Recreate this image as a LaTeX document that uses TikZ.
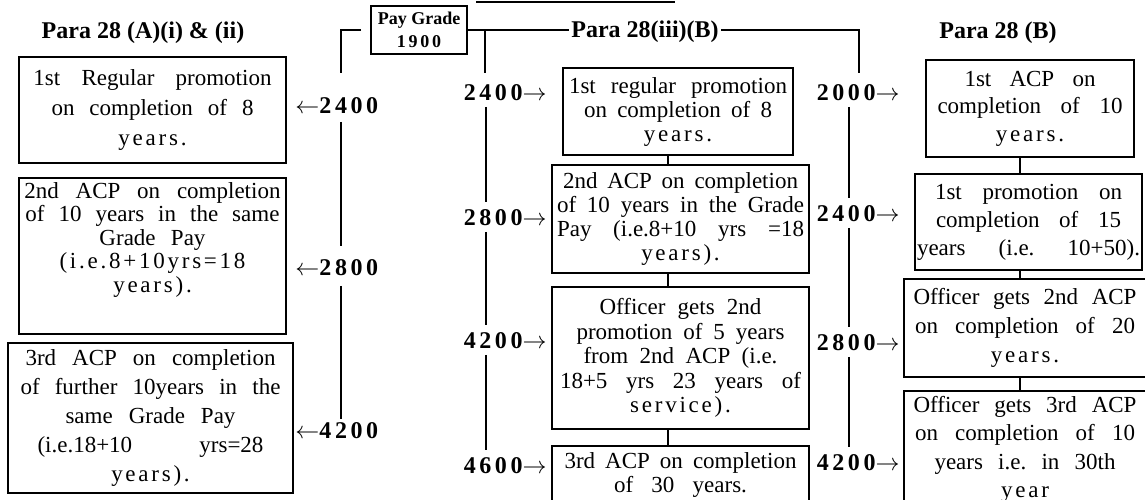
\documentclass[tikz,border=0pt]{standalone}
\usepackage{fontspec}
\setmainfont{Liberation Serif}
\newfontfamily\numfont[LetterSpace=15]{Liberation Serif}
\newfontfamily\lsfont[LetterSpace=12]{Liberation Serif}
\newcommand{\justline}[2]{\makebox[#1][s]{\frenchspacing\spaceskip=0pt\xspaceskip=0pt #2}}
\begin{document}
\begin{tikzpicture}[x=0.5pt,y=-0.5pt,
  stage/.style={draw, line width=1.1pt, align=center, inner xsep=2pt, inner ysep=1pt, font=\fontsize{11.5}{#1}\selectfont},
  stage/.default=12,
  grade/.style={inner sep=0pt, text height=8.5pt, text depth=0pt, font=\fontsize{12}{14}\selectfont\numfont\bfseries},
  head/.style={font=\fontsize{12}{14}\selectfont\bfseries},
  trunk/.style={line width=1pt},
  gap/.style={shorten <=3pt, shorten >=3pt}]
\useasboundingbox (0,0) rectangle (1145,499);
\clip (0,0) rectangle (1145,499);
\draw[line width=0.6pt] (476,2) -- (675,2);
\coordinate (xl) at (341,0);
\coordinate (xc0) at (485,0);
\coordinate (xc) at (486,0);
\coordinate (xr0) at (859,0);
\coordinate (xr) at (849,0);
\coordinate (xcb) at (668,0);
\coordinate (xrb) at (1020,0);
\node[draw, line width=1pt, minimum width=48pt, minimum height=24pt, inner sep=0pt, align=center, font=\fontsize{9}{11.5}\selectfont\bfseries] (pg) at (419,30) {Pay Grade\\{\numfont 1900}};
\node[head] (t1) at (143,33) {Para 28 (A)(i) \& (ii)};
\node[head, fill=white, inner xsep=1pt] (t2) at (645,32) {Para 28(iii)(B)};
\node[head] (t3) at (998,33) {Para 28 (B)};
\node[stage=15, minimum width=133.5pt, minimum height=53pt, text width=129.5pt] (l1) at (152.5,110)
  {\justline{119pt}{1st Regular promotion}\\ \justline{101pt}{on completion of 8}\\ {\lsfont years.}};
\node[stage=11.75, anchor=north, minimum width=133.5pt, text width=129.5pt, text depth=66pt, inner ysep=2pt] (l2) at (152.5,177)
  {\justline{128pt}{2nd ACP on completion}\\ \justline{127pt}{of 10 years in the same}\\ \justline{53pt}{Grade Pay}\\ {\lsfont (i.e.8+10yrs=18}\\ {\lsfont years).}};
\node[stage=14.4, minimum width=142.5pt, minimum height=75pt, text width=138.5pt] (l3) at (150.5,418)
  {\justline{125pt}{3rd ACP on completion}\\ \justline{130pt}{of further 10years in the}\\ \justline{85pt}{same Grade Pay}\\ \justline{113pt}{(i.e.18+10 yrs=28}\\ {\lsfont years).}};
\node[stage=12, minimum width=115pt, minimum height=43.5pt, text width=111pt] (c1) at (678,111.5)
  {\justline{109pt}{1st regular promotion}\\ \justline{94pt}{on completion of 8}\\ {\lsfont years.}};
\node[stage=12, minimum width=128.5pt, minimum height=54pt, text width=124.5pt] (c2) at (680.5,219)
  {\justline{117.5pt}{2nd ACP on completion}\\ \justline{123.5pt}{of 10 years in the Grade}\\ \justline{123.5pt}{Pay (i.e.8+10 yrs =18}\\ {\lsfont years).}};
\node[stage=12.25, minimum width=128.5pt, minimum height=71pt, text width=124.5pt] (c3) at (680.5,358)
  {\justline{81pt}{Officer gets 2nd}\\ \justline{104pt}{promotion of 5 years}\\ \justline{97pt}{from 2nd ACP (i.e.}\\ \justline{120.5pt}{18+5 yrs 23 years of}\\ {\lsfont service).}};
\node[stage=12, minimum width=128.5pt, minimum height=29pt, text width=124.5pt] (c4) at (680.5,475)
  {\justline{116pt}{3rd ACP on completion}\\ \justline{66.5pt}{of 30 years.}};
\node[stage=13.75, minimum width=104pt, minimum height=48.5pt, text width=100pt] (r1) at (1030,108.5)
  {\justline{65.5pt}{1st ACP on}\\ \justline{92.5pt}{completion of 10}\\ {\lsfont years.}};
\node[stage=14, minimum width=113.5pt, minimum height=48pt, text width=111.5pt, inner xsep=1pt] (r2) at (1028.5,222)
  {\justline{93.5pt}{1st promotion on}\\ \justline{92.5pt}{completion of 15}\\ \justline{111.5pt}{years (i.e. 10+50).}};
\node[stage=14.5, minimum width=121pt, minimum height=49pt, text width=117pt] (r3) at (1025,328)
  {\justline{111.5pt}{Officer gets 2nd ACP}\\ \justline{110pt}{on completion of 20}\\ {\lsfont years.}};
\node[stage=14.25, minimum width=121pt, minimum height=58.5pt, text width=117pt] (r4) at (1025,449.5)
  {\justline{111.5pt}{Officer gets 3rd ACP}\\ \justline{110pt}{on completion of 10}\\ \justline{90.5pt}{years i.e. in 30th}\\ {\lsfont year}};
\node[grade, anchor=west] (la1) at (295,105) {$\leftarrow$2400};
\node[grade, anchor=west] (la2) at (295,267) {$\leftarrow$2800};
\node[grade, anchor=west] (la3) at (295,430) {$\leftarrow$4200};
\node[grade, anchor=east] (lc1) at (547,92) {2400$\rightarrow$};
\node[grade, anchor=east] (lc2) at (547,217) {2800$\rightarrow$};
\node[grade, anchor=east] (lc3) at (547,340) {4200$\rightarrow$};
\node[grade, anchor=east] (lc4) at (547,465) {4600$\rightarrow$};
\node[grade, anchor=east] (lr1) at (900,92) {2000$\rightarrow$};
\node[grade, anchor=east] (lr2) at (900,213) {2400$\rightarrow$};
\node[grade, anchor=east] (lr3) at (900,342) {2800$\rightarrow$};
\node[grade, anchor=east] (lr4) at (900,462) {4200$\rightarrow$};
\draw[trunk, shorten >=11.5pt] ([xshift=-4.5pt]pg.west) -| (la1.north -| xl);
\draw[trunk, shorten <=4pt, shorten >=6pt] (la1.south -| xl) -- (la2.north -| xl);
\draw[trunk, shorten <=5pt, shorten >=1pt] (la2.south -| xl) -- (la3.north -| xl);
\draw[trunk] (pg.east) -- (t2.west |- pg.east);
\draw[trunk, shorten >=5pt] (t2.east |- pg.east) -| (lr1.north -| xr0);
\draw[trunk, shorten >=5pt] (pg.east -| xc0) -- (lc1.north -| xc0);
\draw[trunk, gap] (lc1.south -| xc) -- (lc2.north -| xc);
\draw[trunk, gap] (lc2.south -| xc) -- (lc3.north -| xc);
\draw[trunk, gap] (lc3.south -| xc) -- (lc4.north -| xc);
\draw[trunk, gap] (lr1.south -| xr) -- (lr2.north -| xr);
\draw[trunk, gap] (lr2.south -| xr) -- (lr3.north -| xr);
\draw[trunk, gap] (lr3.south -| xr) -- (lr4.north -| xr);
\draw[trunk] (c1.south -| xcb) -- (c2.north -| xcb);
\draw[trunk] (c2.south -| xcb) -- (c3.north -| xcb);
\draw[trunk] (c3.south -| xcb) -- (c4.north -| xcb);
\draw[trunk] (r1.south -| xrb) -- (r2.north -| xrb);
\draw[trunk] (r2.south -| xrb) -- (r3.north -| xrb);
\draw[trunk] (r3.south -| xrb) -- (r4.north -| xrb);
\end{tikzpicture}
\end{document}
